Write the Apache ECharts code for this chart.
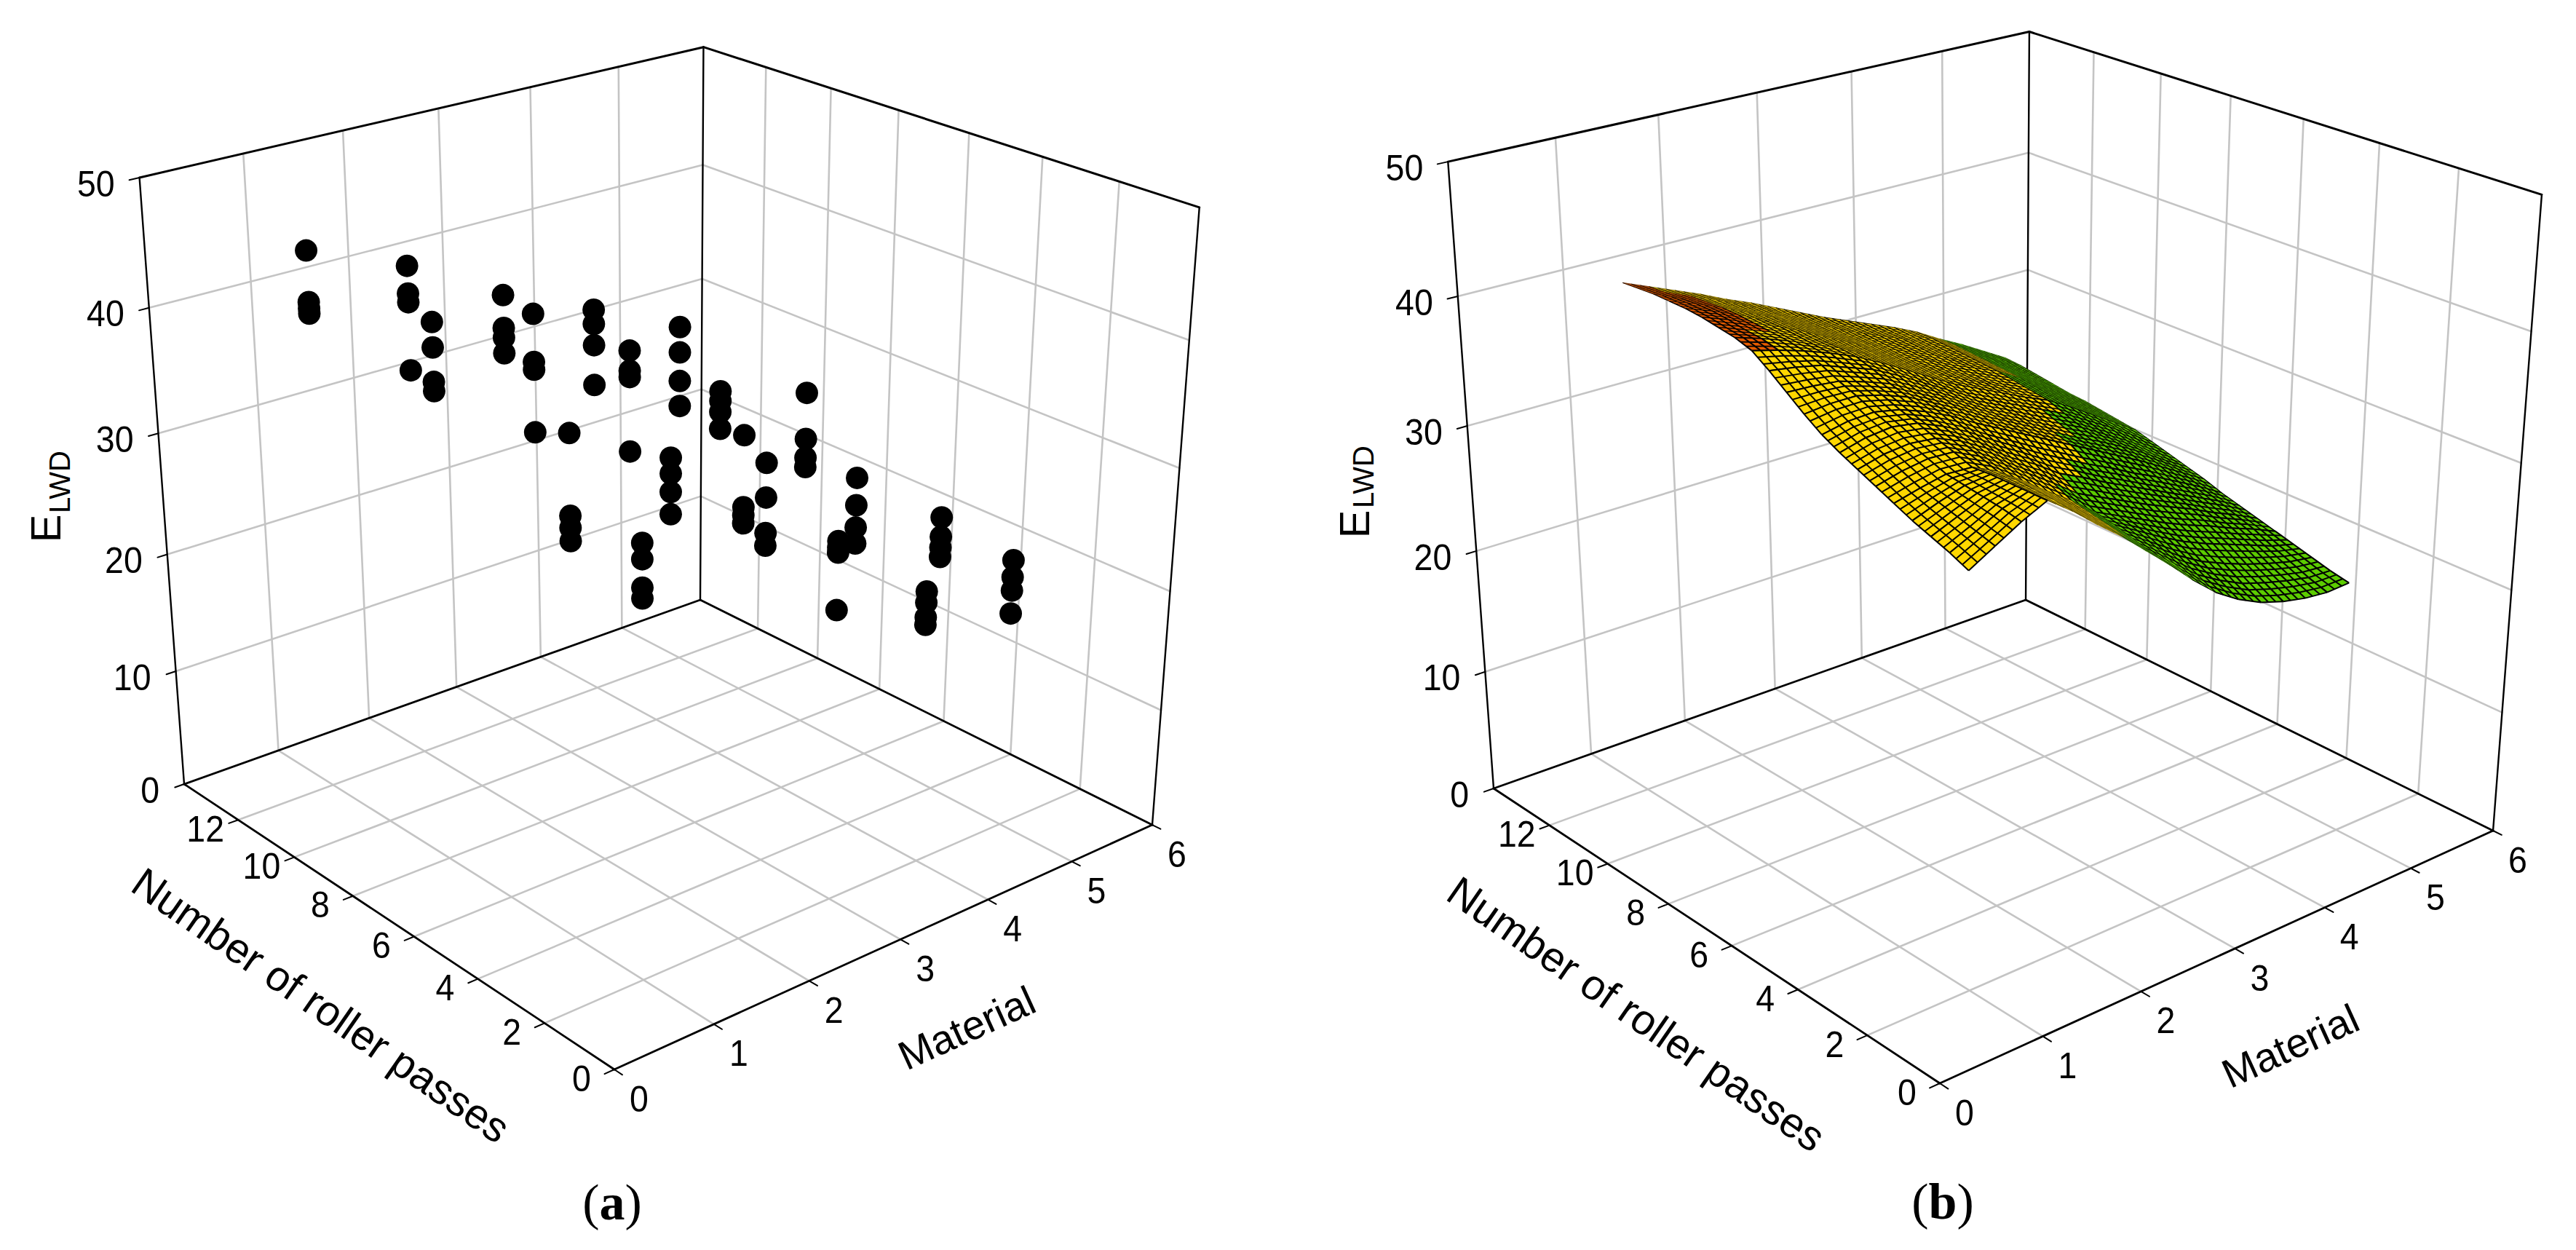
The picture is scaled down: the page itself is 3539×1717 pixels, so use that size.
<!DOCTYPE html>
<html><head><meta charset="utf-8">
<style>html,body{margin:0;padding:0;background:#fff}#c{width:3539px;height:1717px}</style>
<script src="https://cdn.jsdelivr.net/npm/echarts@6/dist/echarts.min.js"></script>
</head><body><div id="c"></div>
<script>
// ---------- axes ----------
const materialTicks = [0,1,2,3,4,5,6];
const passTicks = [0,2,4,6,8,10,12];
const elwdTicks = [0,10,20,30,40,50];
const materialMax = 6, passMax = 14, elwdMax = 50;
const axisTitleMaterial = 'Material';
const axisTitlePasses = 'Number of roller passes';
const captions = ['a','b'];

// ---------- panel (a): measured points ----------
const scatterMaterial = [
 1,1,1,1, 2,2,2,2, 1,1,1,1, 3,3,3,3, 2,2,2,2, 4,4,4,4, 1,1,1,1, 3,3,3,3, 5,5,5,5, 2,2,2,2,
 1,1,1,1, 4,4,4,4, 2,2,2,2, 3,3,3,3, 5,5,5,5, 4,4,4,4, 3,3,3,3, 5,5,5,5, 4,4,4,4, 5,5,5,5];
const scatterPasses = [
 12,12,12,12, 12,12,12,12, 8,8,8,8, 12,12,12,12, 8,8,8,8, 12,12,12,12, 4,4,4,4, 8,8,8,8, 12,12,12,12, 4,4,4,4,
 2,2,2,2, 8,8,8,8, 2,2,2,2, 4,4,4,4, 8,8,8,8, 4,4,4,4, 2,2,2,2, 4,4,4,4, 2,2,2,2, 2,2,2,2];
const scatterElwd = [
 44.5,40.5,40.0,39.6, 41.3,39.1,38.4,32.9, 43.3,41.4,38.8,38.1, 36.9,34.2,33.4,32.1, 41.8,38.1,37.5,32.6,
 33.6,32.4,30.6,27.2, 39.7,33.6,32.7,31.7, 36.8,35.2,34.7,28.7, 30.0,27.8,25.3,23.1, 35.5,34.3,32.9,31.2,
 34.2,33.0,30.9,30.1, 31.3,30.5,29.6,28.2, 39.6,34.3,33.7,33.1, 32.7,30.0,27.2,26.2, 28.9,25.0,23.4,22.6,
 29.1,26.9,25.1,23.8, 29.2,28.7,28.3,23.8, 23.4,21.8,20.9,20.1, 22.6,21.7,20.5,19.9, 22.5,21.1,20.0,18.1];

// ---------- panel (b): fitted surface, heights estimated from its outline and colour bands ----------
const surfMaterial = [1,1.25,1.5,1.75,2,2.25,2.5,2.75,3,3.25,3.5,3.75,4,4.25,4.5,4.75,5];
const surfPasses = [2,2.5,3,3.5,4,4.5,5,5.5,6,6.5,7,7.5,8,8.5,9,9.5,10,10.5,11,11.5,12];
const surfElwd = [
 [31.9,33.0,34.1,35.0,33.6,32.0,30.5,28.8,27.1,25.3,23.7,22.5,21.6,21.0,20.6,20.4,20.5],
 [32.5,33.4,34.4,35.0,33.8,32.2,30.7,29.1,27.4,25.9,24.4,23.3,22.4,21.8,21.3,20.9,20.8],
 [33.0,33.8,34.6,35.0,33.9,32.4,30.9,29.4,27.8,26.5,25.2,24.1,23.3,22.6,22.0,21.5,21.2],
 [33.5,34.2,34.8,35.0,34.0,32.6,31.1,29.7,28.2,27.1,26.0,25.0,24.2,23.5,22.8,22.1,21.6],
 [34.1,34.6,35.0,34.9,34.0,32.7,31.3,30.0,28.5,27.6,26.7,25.8,25.0,24.3,23.5,22.8,22.0],
 [34.7,35.2,35.5,35.4,34.5,33.3,32.0,30.7,29.3,28.4,27.5,26.6,25.8,25.0,24.1,23.3,22.4],
 [35.3,35.8,36.0,35.8,35.0,33.9,32.6,31.5,30.2,29.3,28.3,27.4,26.5,25.6,24.7,23.8,22.8],
 [35.9,36.4,36.6,36.3,35.5,34.5,33.3,32.2,31.1,30.1,29.1,28.2,27.2,26.3,25.3,24.3,23.2],
 [36.6,37.0,37.1,36.7,36.0,35.1,34.0,33.0,32.0,31.0,30.0,29.0,28.0,27.0,25.9,24.8,23.7],
 [37.5,37.7,37.7,37.2,36.5,35.5,34.5,33.4,32.4,31.4,30.4,29.4,28.5,27.5,26.4,25.2,24.1],
 [38.5,38.4,38.2,37.6,36.9,35.9,34.9,33.8,32.7,31.8,30.8,29.9,29.0,27.9,26.8,25.6,24.5],
 [39.5,39.2,38.8,38.1,37.4,36.4,35.3,34.2,33.1,32.2,31.3,30.4,29.5,28.4,27.3,26.1,24.9],
 [40.4,39.9,39.3,38.6,37.8,36.8,35.7,34.6,33.5,32.6,31.7,30.8,30.0,28.9,27.7,26.5,25.3],
 [40.8,40.2,39.5,38.7,37.9,36.9,35.8,34.7,33.7,32.8,31.9,31.0,30.2,29.1,27.9,26.7,25.5],
 [41.0,40.3,39.6,38.8,37.9,36.9,35.9,34.8,33.8,32.9,32.0,31.2,30.4,29.3,28.1,26.9,25.7],
 [41.2,40.5,39.7,38.9,38.0,37.0,36.0,34.9,33.9,33.1,32.2,31.4,30.6,29.5,28.3,27.1,25.9],
 [41.3,40.6,39.8,38.9,38.0,37.0,36.0,35.0,34.0,33.2,32.4,31.5,30.7,29.6,28.4,27.2,26.0],
 [41.3,40.6,39.8,38.9,38.0,37.0,36.0,35.0,34.1,33.3,32.5,31.6,30.8,29.7,28.5,27.3,26.2],
 [41.3,40.5,39.7,38.8,37.9,37.0,36.0,35.1,34.2,33.4,32.6,31.7,30.9,29.8,28.7,27.5,26.4],
 [41.2,40.4,39.6,38.8,37.9,37.0,36.0,35.1,34.2,33.4,32.6,31.8,31.0,29.9,28.8,27.7,26.6],
 [41.1,40.3,39.5,38.7,37.8,37.0,36.1,35.2,34.3,33.5,32.7,31.9,31.0,29.9,28.9,27.8,26.7]];

// ---------- 3D camera: each panel is a projective view of the (material, passes, ELWD) box ----------
const camA = {x:[954.7,-550.1,-90.4,844],  y:[-181.6,-217.9,-992,1469],  w:[.13625,.16165,-.0995,1]};
const camB = {x:[1249,-274.3,-271,2665],   y:[-184.1,-226.3,-1025,1488], w:[.14276,.16505,-.0995,1]};
function proj(cam,m,p,e){
  const X=m/materialMax,Y=p/passMax,Z=e/elwdMax;
  const f=r=>r[0]*X+r[1]*Y+r[2]*Z+r[3];
  const w=f(cam.w);
  return [f(cam.x)/w,f(cam.y)/w,w];
}
const SANS='"Liberation Sans",Arial,sans-serif', SERIF='"Liberation Serif","Times New Roman",serif';
const GRID='#c4c4c4', BLACK='#000';

function frameSegments(){
  const s=[]; const g=(a,b)=>s.push({a,b,c:GRID,w:2.6});
  const k=(a,b,w)=>s.push({a,b,c:BLACK,w:w||2.6});
  const M=materialMax,P=passMax,E=elwdMax;
  materialTicks.filter(v=>v>0&&v<M).forEach(m=>{ g([m,0,0],[m,P,0]); g([m,P,0],[m,P,E]); });
  passTicks.filter(v=>v>0&&v<P).forEach(p=>{ g([0,p,0],[M,p,0]); g([M,p,0],[M,p,E]); });
  elwdTicks.filter(v=>v>0&&v<E).forEach(e=>{ g([0,P,e],[M,P,e]); g([M,P,e],[M,0,e]); });
  k([0,0,0],[M,0,0],2.8);k([0,0,0],[0,P,0],2.8);k([M,0,0],[M,P,0],2.8);k([0,P,0],[M,P,0],2.8);
  k([0,P,0],[0,P,E],2.4);k([M,P,0],[M,P,E],2.4);k([M,0,0],[M,0,E],2.4);
  k([0,P,E],[M,P,E],3);k([M,P,E],[M,0,E],3);
  const tm=M*.016,tp=P*.016;
  materialTicks.forEach(m=>k([m,0,0],[m,-tp,0],2));
  passTicks.forEach(p=>k([0,p,0],[-tm,p,0],2));
  elwdTicks.forEach(e=>k([0,P,e],[-tm,P,e],2));
  return s;
}
function frameTexts(cam,t){
  const out=[];
  const lab=(txt,pt,dx,dy)=>out.push({txt:String(txt),x:pt[0]+dx,y:pt[1]+dy,size:50,sx:.93,align:'center',rot:0});
  materialTicks.forEach(m=>lab(m,proj(cam,m,0,0),34,40));
  passTicks.forEach(p=>lab(p,proj(cam,0,p,0),-45,12));
  elwdTicks.forEach(e=>out.push({txt:String(e),x:proj(cam,0,passMax,e)[0]-34,y:proj(cam,0,passMax,e)[1]+8,size:50,sx:.93,align:'right',rot:0}));
  out.push({txt:axisTitlePasses,x:t.passes[0],y:t.passes[1],size:58,sx:1,align:'center',rot:-34.7*Math.PI/180});
  out.push({txt:axisTitleMaterial,x:t.mat[0],y:t.mat[1],size:56,sx:1,align:'center',rot:24.5*Math.PI/180});
  out.push({txt:'E',x:t.e[0],y:t.e[1],size:58,sx:1,align:'center',rot:Math.PI/2});
  out.push({txt:'LWD',x:t.l[0],y:t.l[1],size:40,sx:1,align:'center',rot:Math.PI/2});
  out.push({rich:t.cap,x:t.capPos[0],y:t.capPos[1]});
  return out;
}
function frameSeries(cam,t,gi){
  const segs=frameSegments(), texts=frameTexts(cam,t);
  const items=segs.map((_,i)=>[i,0]).concat(texts.map((_,i)=>[i,1]));
  return {type:'custom',coordinateSystem:'cartesian2d',xAxisIndex:gi,yAxisIndex:gi,silent:true,animation:false,clip:false,z:1,
    data:items,
    renderItem(params,api){
      const i=api.value(0);
      if(api.value(1)===0){
        const s=segs[i],p=proj(cam,...s.a),q=proj(cam,...s.b);
        const a=api.coord(p),b=api.coord(q);
        return {type:'line',shape:{x1:a[0],y1:a[1],x2:b[0],y2:b[1]},style:{stroke:s.c,lineWidth:s.w,lineCap:'round',fill:null}};
      }
      const o=texts[i],c=api.coord([o.x,o.y]);
      if(o.rich) return {type:'text',x:c[0],y:c[1],style:{text:'{n|(}{b|'+o.rich+'}{n|)}',textAlign:'center',textVerticalAlign:'middle',
        rich:{n:{fontFamily:SERIF,fontSize:70,fill:'#000'},b:{fontFamily:SERIF,fontSize:70,fontWeight:'bold',fill:'#000'}}}};
      return {type:'text',x:c[0],y:c[1],rotation:o.rot,scaleX:o.sx,style:{text:o.txt,fontFamily:SANS,fontSize:o.size,fill:'#000',textAlign:o.align,textVerticalAlign:'middle'}};
    }};
}
function bandColor(e){ return e>=40?'#e65c00':e>=30?'#ffd700':'#5ccc00'; }
function surfaceSeries(cam,gi){
  const cells=[];
  for(let r=0;r<surfPasses.length-1;r++)for(let c=0;c<surfMaterial.length-1;c++){
    const d=proj(cam,(surfMaterial[c]+surfMaterial[c+1])/2,(surfPasses[r]+surfPasses[r+1])/2,surfElwd[r][c])[2];
    cells.push([c,r,d]);
  }
  cells.sort((a,b)=>b[2]-a[2]);
  const SUB=3, LWMAX=2, LWMIN=.3, DUTY=.33;
  return {type:'custom',coordinateSystem:'cartesian2d',xAxisIndex:gi,yAxisIndex:gi,silent:true,animation:false,clip:false,z:3,
    data:cells,
    renderItem(params,api){
      const c=api.value(0),r=api.value(1);
      const pt=(cc,rr)=>api.coord(proj(cam,surfMaterial[cc],surfPasses[rr],surfElwd[rr][cc]));
      const A=pt(c,r),B=pt(c+1,r),C=pt(c+1,r+1),D=pt(c,r+1);
      const mean=(surfElwd[r][c]+surfElwd[r][c+1]+surfElwd[r+1][c]+surfElwd[r+1][c+1])/4;
      const fill=bandColor(mean);
      const children=[{type:'polygon',shape:{points:[A,B,C,D]},style:{fill,stroke:fill,lineWidth:.6}}];
      const area=Math.abs((C[0]-A[0])*(D[1]-B[1])-(C[1]-A[1])*(D[0]-B[0]))/2;
      const lenM=Math.hypot((B[0]+C[0]-A[0]-D[0])/2,(B[1]+C[1]-A[1]-D[1])/2)||1;
      const lenP=Math.hypot((D[0]+C[0]-A[0]-B[0])/2,(D[1]+C[1]-A[1]-B[1])/2)||1;
      const clampW=v=>Math.max(LWMIN,Math.min(LWMAX,v));
      const lwM=clampW(DUTY*area/lenM/SUB), lwP=clampW(DUTY*area/lenP/SUB);
      const mix=(P,Q,t)=>[P[0]+(Q[0]-P[0])*t,P[1]+(Q[1]-P[1])*t];
      const ln=(P,Q,w)=>children.push({type:'line',shape:{x1:P[0],y1:P[1],x2:Q[0],y2:Q[1]},style:{stroke:'#000',lineWidth:w,fill:null}});
      for(let k=0;k<=SUB;k++){ const t=k/SUB; ln(mix(A,B,t),mix(D,C,t),lwP); ln(mix(A,D,t),mix(B,C,t),lwM); }
      return {type:'group',children};
    }};
}
const pointsData=scatterElwd.map((e,i)=>{
  const q=proj(camA,scatterMaterial[i],scatterPasses[i],e);
  return [q[0],q[1],scatterMaterial[i],scatterPasses[i],e];
});
const hiddenAxis=(dir,max,inv)=>({type:'value',min:0,max,show:false,inverse:!!inv,gridIndex:0});
const option={
  backgroundColor:'#fff',animation:false,
  grid:[{left:0,right:0,top:0,bottom:0}],
  xAxis:[hiddenAxis('x',3539)],
  yAxis:[hiddenAxis('y',1717,true)],
  series:[
    frameSeries(camA,{passes:[441,1381],mat:[1328,1412],e:[62,726],l:[82,662],cap:captions[0],capPos:[841,1651]},0),
    frameSeries(camB,{passes:[2248,1393],mat:[3146.5,1436.6],e:[1860,720],l:[1873,655],cap:captions[1],capPos:[2669,1650]},0),
    {name:'Measured ELWD',type:'scatter',xAxisIndex:0,yAxisIndex:0,encode:{x:0,y:1},data:pointsData,symbol:'circle',symbolSize:31,itemStyle:{color:'#000',opacity:1},silent:true,animation:false,z:3,clip:false},
    surfaceSeries(camB,0)
  ]
};
const chart=echarts.init(document.getElementById('c'),null,{renderer:'svg',width:3539,height:1717});
chart.setOption(option);
</script></body></html>
